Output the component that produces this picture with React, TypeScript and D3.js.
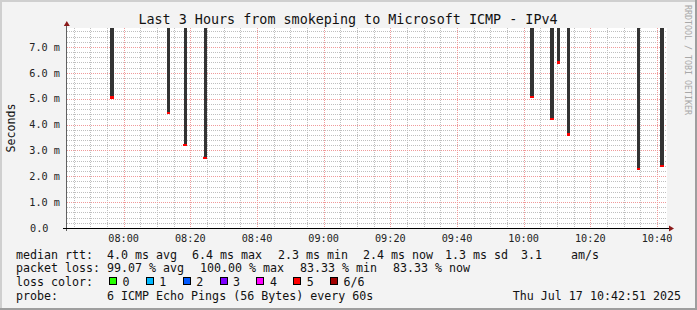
import React from "react";
import * as d3 from "d3";

// ---------- data ----------
const title = "Last 3 Hours from smokeping to Microsoft ICMP - IPv4";
const yAxisTitle = "Seconds";
const watermark = "RRDTOOL / TOBI OETIKER";
const windowStart = "07:43";
const windowEnd = "10:43";
const sampleTimes = ["07:56", "08:13", "08:18", "08:24", "10:02", "10:08", "10:10", "10:13", "10:34", "10:41"];
const medianMs = [5.05, 4.45, 3.2, 2.7, 5.07, 4.22, 6.4, 3.62, 2.27, 2.4];
const yMax = 7.734;
const yMajorTicks = [0, 1, 2, 3, 4, 5, 6, 7];
const yTickLabels = ["0.0", "1.0 m", "2.0 m", "3.0 m", "4.0 m", "5.0 m", "6.0 m", "7.0 m"];
const yMinorStep = 0.2;
const rttLabel = "median rtt:";
const rttItems = ["4.0 ms avg", "6.4 ms max", "2.3 ms min", "2.4 ms now", "1.3 ms sd", "3.1", "am/s"];
const lossLabel = "packet loss:";
const lossItems = ["99.07 % avg", "100.00 % max", "83.33 % min", "83.33 % now"];
const lossColorLabel = "loss color:";
const lossLabels = ["0", "1", "2", "3", "4", "5", "6/6"];
const lossColors = ["#26ff00", "#00b8ff", "#0059ff", "#7e00ff", "#ff00ff", "#ff0000", "#a10000"];
const probeLabel = "probe:";
const probeText = "6 ICMP Echo Pings (56 Bytes) every 60s";
const stampText = "Thu Jul 17 10:42:51 2025";

// ---------- layout ----------
const W = 697;
const H = 310;
const L = 67, R = 667, T = 28, B = 228;
const rttX = [107, 192, 278, 363, 445, 521, 571];
const lossX = [107, 200, 300, 393];
const rowY = [258.5, 272.4, 286.3, 300.2];
const FONT = "'DejaVu Sans Mono', monospace";

const toDate = (s: string) => {
  const [h, m] = s.split(":").map(Number);
  return new Date(2025, 6, 17, h, m, 0);
};

export default function App() {
  const x = d3.scaleTime().domain([toDate(windowStart), toDate(windowEnd)]).range([L, R]);
  const y = d3.scaleLinear().domain([0, yMax]).range([B, T]);

  const majorX = x.ticks(d3.timeMinute.every(20) as any);
  const minorX = x.ticks(d3.timeMinute.every(5) as any).filter((d) => d.getMinutes() % 20 !== 0);
  const fmt = d3.timeFormat("%H:%M");
  const minorY = d3.range(yMinorStep, yMax, yMinorStep).filter((v) => Math.abs(v - Math.round(v)) > 1e-6);

  const crisp = (v: number) => Math.round(v) + 0.5;

  return (
    <svg width={W} height={H} style={{ position: "absolute", left: 0, top: 0, display: "block" }} fontFamily={FONT}>
      <rect x={0} y={0} width={W} height={H} fill="#f3f3f3" />
      {/* frame */}
      <rect x={0} y={0} width={W} height={2} fill="#cfcfcf" />
      <rect x={0} y={0} width={2} height={H} fill="#cfcfcf" />
      <rect x={0} y={H - 2} width={W} height={2} fill="#9e9e9e" />
      <rect x={W - 2} y={0} width={2} height={H} fill="#9e9e9e" />

      {/* canvas */}
      <rect x={L} y={T} width={R - L} height={B - T} fill="#ffffff" />

      {/* minor grid */}
      <g stroke="#bfbfbf" strokeWidth={1} strokeDasharray="1,1" shapeRendering="crispEdges">
        {minorX.map((d, i) => (
          <line key={"mx" + i} x1={crisp(x(d))} x2={crisp(x(d))} y1={T} y2={B} />
        ))}
        {minorY.map((v, i) => (
          <line key={"my" + i} x1={L} x2={R} y1={crisp(y(v))} y2={crisp(y(v))} />
        ))}
      </g>
      {/* major grid */}
      <g stroke="#f09a9a" strokeWidth={1} strokeDasharray="1,1" shapeRendering="crispEdges">
        {majorX.map((d, i) => (
          <line key={"Mx" + i} x1={crisp(x(d))} x2={crisp(x(d))} y1={T} y2={B} />
        ))}
        {yMajorTicks.filter((v) => v > 0).map((v, i) => (
          <line key={"My" + i} x1={L} x2={R} y1={crisp(y(v))} y2={crisp(y(v))} />
        ))}
      </g>

      {/* smoke bars and medians */}
      <g shapeRendering="crispEdges">
        {sampleTimes.map((t, i) => {
          const x0 = x(toDate(t));
          const x1 = x(new Date(toDate(t).getTime() + 60000));
          const yv = y(medianMs[i]);
          return (
            <g key={"b" + i}>
              <rect x={x0} y={T} width={x1 - x0} height={yv - T} fill="#333333" />
              <rect x={x0 - 0.5} y={yv - 1.2} width={x1 - x0 + 0.5} height={2.4} fill="#ff0000" />
            </g>
          );
        })}
      </g>

      {/* axes */}
      <line x1={crisp(L) - 1} x2={crisp(L) - 1} y1={T - 4} y2={B + 3} stroke="#606060" strokeWidth={1} shapeRendering="crispEdges" />
      <line x1={L - 4} x2={R + 3} y1={crisp(B)} y2={crisp(B)} stroke="#000000" strokeWidth={1} shapeRendering="crispEdges" />
      <path d={`M${L - 3.2},${T - 2} L${L - 0.2},${T - 7} L${L + 2.8},${T - 2} Z`} fill="#8b1a1a" />
      <path d={`M${R + 2},${B - 2.5} L${R + 7},${B + 0.5} L${R + 2},${B + 3.5} Z`} fill="#8b1a1a" />

      {/* y tick labels */}
      <g fontSize={10.2} fill="#222">
        {yMajorTicks.map((v, i) => (
          <text key={"yl" + i} x={v === 0 ? 48.5 : 60} y={y(v) + 3.7} textAnchor="end">
            {yTickLabels[i]}
          </text>
        ))}
      </g>
      {/* x tick labels */}
      <g fontSize={10.2} fill="#222" textAnchor="middle">
        {majorX.map((d, i) => (
          <text key={"xl" + i} x={x(d)} y={241.7}>
            {fmt(d)}
          </text>
        ))}
      </g>

      {/* title */}
      <text x={348} y={24} fontSize={13.4} textAnchor="middle" fill="#111">
        {title}
      </text>
      {/* y axis title */}
      <text transform="translate(14.5,128) rotate(-90)" fontSize={11.6} textAnchor="middle" fill="#111">
        {yAxisTitle}
      </text>
      {/* watermark */}
      <text transform="translate(685,5) rotate(90)" fontSize={8.3} fill="#a8a8a8">
        {watermark}
      </text>

      {/* legend */}
      <g fontSize={11.65} fill="#111" style={{ whiteSpace: "pre" }}>
        <text x={16} y={rowY[0]}>{rttLabel}</text>
        {rttItems.map((s, i) => (
          <text key={"r" + i} x={rttX[i]} y={rowY[0]}>{s}</text>
        ))}
        <text x={16} y={rowY[1]}>{lossLabel}</text>
        {lossItems.map((s, i) => (
          <text key={"l" + i} x={lossX[i]} y={rowY[1]}>{s}</text>
        ))}
        <text x={16} y={rowY[2]}>{lossColorLabel}</text>
        {lossLabels.map((s, i) => {
          const bx = 109 + i * 36.85;
          return (
            <g key={"lc" + i}>
              <rect x={Math.round(bx) + 0.5} y={277.5} width={6.5} height={7} fill={lossColors[i]} stroke="#000" strokeWidth={1} shapeRendering="crispEdges" />
              <text x={bx + 13.5} y={rowY[2]}>{s}</text>
            </g>
          );
        })}
        <text x={16} y={rowY[3]}>{probeLabel}</text>
        <text x={107} y={rowY[3]}>{probeText}</text>
        <text x={681} y={rowY[3]} textAnchor="end">{stampText}</text>
      </g>
    </svg>
  );
}
